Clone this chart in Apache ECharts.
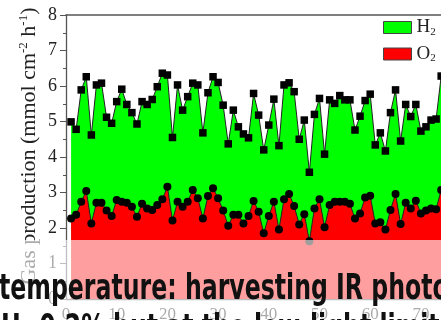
<!DOCTYPE html>
<html>
<head>
<meta charset="utf-8">
<script src="https://cdn.jsdelivr.net/npm/echarts@6/dist/echarts.min.js"></script>
<style>html,body{margin:0;padding:0;background:#fff;}#c{width:441px;height:320px;}</style>
</head>
<body>
<div id="c"></div>
<script>
// Run number (x)
var runs = [1,2,3,4,5,6,7,8,9,10,11,12,13,14,15,16,17,18,19,20,21,22,23,24,25,26,27,28,29,30,31,32,33,34,35,36,37,38,39,40,41,42,43,44,45,46,47,48,49,50,51,52,53,54,55,56,57,58,59,60,61,62,63,64,65,66,67,68,69,70,71,72,73,74];
// H2 production (mmol cm^-2 h^-1)
var h2 = [4.99,4.78,5.89,6.26,4.62,6.03,6.08,5.12,4.95,5.56,5.91,5.48,5.25,4.93,5.56,5.48,5.62,5.98,6.36,6.31,4.55,6.03,5.32,5.70,6.08,6.03,4.68,5.81,6.26,6.10,5.46,4.37,5.32,4.85,4.65,4.54,5.79,5.18,4.20,4.90,5.63,4.32,6.03,6.09,5.84,4.50,5.04,3.57,5.20,5.65,4.08,5.61,5.51,5.73,5.61,5.61,4.76,5.15,5.59,5.77,4.34,4.68,4.17,5.25,5.89,4.45,5.48,5.14,5.48,4.73,4.85,5.04,5.07,6.28];
// O2 production
var o2 = [2.27,2.37,2.74,3.04,2.13,2.71,2.71,2.49,2.34,2.79,2.74,2.71,2.60,2.32,2.68,2.55,2.51,2.65,2.81,3.16,2.21,2.74,2.60,2.74,3.07,2.84,2.27,2.90,3.12,2.84,2.49,2.06,2.37,2.37,2.13,2.34,2.76,2.46,1.85,2.34,2.74,1.96,2.81,2.96,2.62,2.10,2.39,1.63,2.55,2.81,2.02,2.65,2.74,2.74,2.74,2.68,2.27,2.41,2.86,2.91,2.13,2.16,1.96,2.51,2.96,2.11,2.71,2.55,2.77,2.41,2.49,2.55,2.53,3.07];
var seriesNames = ['H2','O2'];
var yTitle = ['Gas production (mmol cm', '-2', ' h', '-1', ')'];
var caption1 = 'temperature: harvesting IR photo';
var caption2 = 'H\u2082 0.2% but at the low-light limit of';

function pairs(xs, ys){ return xs.map(function(x,i){ return [x, ys[i]]; }); }

var serif = "'Liberation Serif','Times New Roman',serif";
var cond = "'DejaVu Sans Condensed','Liberation Sans Narrow',sans-serif";
var axisCol = '#555';
var chart = echarts.init(document.getElementById('c'), null, {renderer:'canvas'});
chart.setOption({
  animation:false,
  grid:{left:66, top:15, width:405.6, height:284, outerBoundsMode:'none', containLabel:false},
  legend:{
    orient:'vertical', left:383, top:18, padding:0, itemWidth:28, itemHeight:12, itemGap:7,
    icon:'rect',
    data:[
      {name:seriesNames[0], itemStyle:{color:'#00ff00', borderColor:'#444', borderWidth:1}},
      {name:seriesNames[1], itemStyle:{color:'#ff0000', borderColor:'#444', borderWidth:1}}
    ],
    formatter:function(n){ return '{a|' + n.charAt(0) + '}{s|' + n.slice(1) + '}'; },
    textStyle:{rich:{
      a:{fontSize:19, fontFamily:serif, color:'#222', lineHeight:20},
      s:{fontSize:11, fontFamily:serif, color:'#222', lineHeight:11, verticalAlign:'bottom'}
    }}
  },
  xAxis:[{
    type:'value', position:'bottom', min:0, max:80, interval:10,
    axisLine:{show:true, lineStyle:{color:axisCol, width:1.3}},
    axisTick:{show:true, inside:true, length:6, lineStyle:{color:axisCol}},
    minorTick:{show:true, splitNumber:2, length:3, lineStyle:{color:axisCol}},
    axisLabel:{fontSize:17, fontFamily:serif, color:'#222', margin:7},
    splitLine:{show:false}
  },{
    type:'value', position:'top', min:0, max:80, interval:10,
    axisLine:{show:true, lineStyle:{color:axisCol, width:1.5}},
    axisTick:{show:false}, axisLabel:{show:false}, splitLine:{show:false}
  }],
  yAxis:{
    type:'value', min:0, max:8, interval:1,
    axisLine:{show:true, lineStyle:{color:axisCol, width:1.3}},
    axisTick:{show:true, inside:false, length:6, lineStyle:{color:axisCol}},
    minorTick:{show:true, splitNumber:2, length:3, lineStyle:{color:axisCol}},
    axisLabel:{fontSize:18, fontFamily:serif, color:'#222', margin:9},
    splitLine:{show:false}
  },
  series:[{
    name:seriesNames[0], type:'line', data:pairs(runs,h2),
    symbol:'rect', symbolSize:7.5, itemStyle:{color:'#000'},
    lineStyle:{color:'#222', width:1}, areaStyle:{color:'#00ff00', opacity:1}, z:2
  },{
    name:seriesNames[1], type:'line', data:pairs(runs,o2),
    symbol:'circle', symbolSize:8, itemStyle:{color:'#000'},
    lineStyle:{color:'#222', width:1}, areaStyle:{color:'#ff0000', opacity:1}, z:3
  }],
  graphic:[
    {type:'text', x:29, y:146, rotation:Math.PI/2, z:1,
     style:{text:'{a|'+yTitle[0]+'}{s|'+yTitle[1]+'}{a|'+yTitle[2]+'}{s|'+yTitle[3]+'}{a|'+yTitle[4]+'}',
       align:'center', verticalAlign:'middle', fill:'#222',
       rich:{a:{fontSize:22, fontFamily:serif, fill:'#222', lineHeight:24},
             s:{fontSize:13, fontFamily:serif, fill:'#222', lineHeight:13, verticalAlign:'top'}}}},
    {type:'rect', left:0, top:240, z:100, shape:{width:441, height:80}, style:{fill:'rgba(255,255,255,0.62)'}},
    {type:'text', x:-1, y:307, scaleX:0.75, z:101,
     style:{text:caption1, fill:'#111', fontSize:35, fontWeight:'bold', fontFamily:cond, align:'left', verticalAlign:'bottom'}},
    {type:'text', x:1, y:312, scaleX:0.75, z:101,
     style:{text:caption2, fill:'#111', fontSize:35, fontWeight:'bold', fontFamily:cond, align:'left', verticalAlign:'top'}}
  ]
});
</script>
</body>
</html>
